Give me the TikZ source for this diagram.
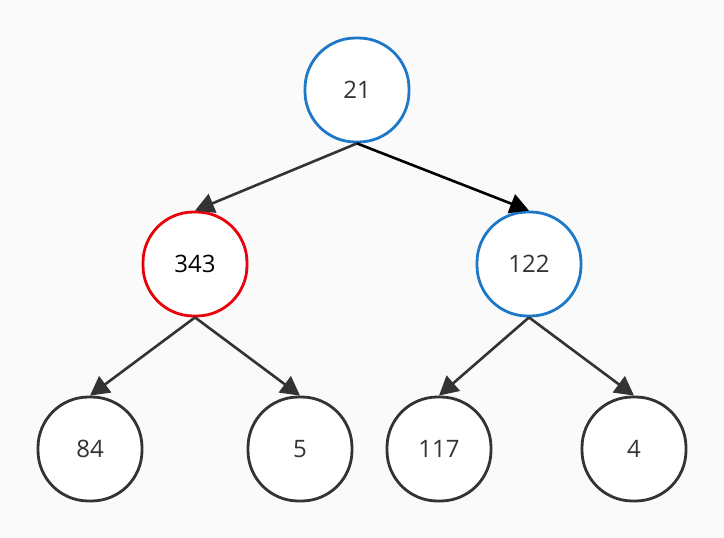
\documentclass[tikz,border=0pt]{standalone}
\usepackage{fontspec}
\setmainfont{Open Sans}
\usetikzlibrary{arrows.meta}
\definecolor{bg}{HTML}{FAFAFA}
\definecolor{ink}{HTML}{333333}
\definecolor{blu}{HTML}{1E78C8}
\definecolor{rd}{HTML}{E8000B}
\tikzset{
  tnode/.style={draw=ink, fill=white, line width=2.8pt, rounded corners=50.5pt,
    minimum width=104pt, minimum height=104pt, inner sep=0pt,
    text=ink, font=\fontsize{24}{28}\selectfont},
  bluenode/.style={tnode, draw=blu},
  rednode/.style={tnode, draw=rd, text=black},
  edge/.style={draw=ink, line width=2.6pt, -{Triangle[length=19pt,width=20pt]}},
}
\begin{document}
\begin{tikzpicture}[x=1pt,y=-1pt]
\fill[bg] (0,0) rectangle (724,538);
\useasboundingbox (0,0) rectangle (724,538);
\node[bluenode] (n21) at (357,90) {21};
\node[rednode] (n343) at (195,264) {343};
\node[bluenode] (n122) at (529,264) {122};
\node[tnode] (n84) at (90,449) {84};
\node[tnode] (n5) at (300,449) {5};
\node[tnode] (n117) at (439,449) {117};
\node[tnode] (n4) at (634,449) {4};
\draw[edge] (n21.south) -- (n343.north);
\draw[edge, draw=black] (n21.south) -- (n122.north);
\draw[edge] (n343.south) -- (n84.north);
\draw[edge] (n343.south) -- (n5.north);
\draw[edge] (n122.south) -- (n117.north);
\draw[edge] (n122.south) -- (n4.north);
\end{tikzpicture}
\end{document}
